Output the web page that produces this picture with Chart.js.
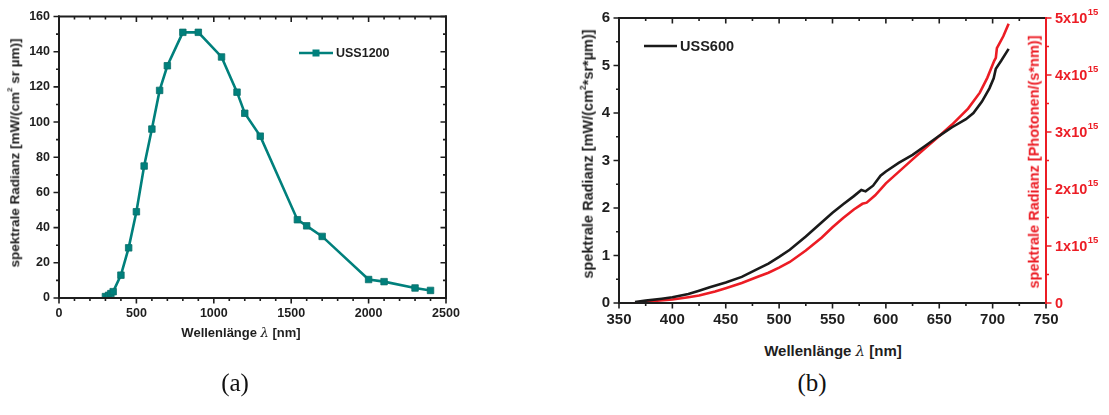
<!DOCTYPE html>
<html>
<head>
<meta charset="utf-8">
<script src="https://cdn.jsdelivr.net/npm/chart.js@4.4.1/dist/chart.umd.min.js"></script>
<style>
  body { margin:0; background:#fff; width:1109px; height:415px; overflow:hidden; position:relative;
         font-family:"Liberation Sans", Arial, sans-serif; }
  canvas { position:absolute; top:0; }
  #chartA { left:0; }
  #chartB { left:560px; }
  .lbl { position:absolute; font-weight:bold; color:#1e1e1e; white-space:nowrap;
         transform:translate(-50%,-50%); line-height:1; }
  .rot { transform:translate(-50%,-50%) rotate(-90deg); }
  .red { color:#ec1c24; }
  .lam { font-family:"DejaVu Serif", serif; font-style:italic; font-weight:normal; }
  sup { font-size:58%; line-height:0; position:relative; top:-0.15em; vertical-align:super; }
  .cap { position:absolute; font-family:"Liberation Serif","DejaVu Serif",serif; font-size:25px;
         color:#111; transform:translate(-50%,-50%); }
</style>
</head>
<body>
<canvas id="chartA" width="560" height="345"></canvas>
<canvas id="chartB" width="549" height="330"></canvas>

<div class="lbl" style="left:241px;top:332px;font-size:13px">Wellenlänge <span class="lam">λ</span> [nm]</div>
<div class="lbl rot" style="left:15px;top:153px;font-size:13.5px">spektrale Radianz [mW/(cm<sup>2</sup> sr µm)]</div>
<div class="lbl" style="left:833px;top:351px;font-size:15px">Wellenlänge <span class="lam">λ</span> [nm]</div>
<div class="lbl rot" style="left:588px;top:154px;font-size:14.5px">spektrale Radianz [mW/(cm<sup>2</sup>*sr*µm)]</div>
<div class="lbl rot red" style="left:1034px;top:162px;font-size:14.5px">spektrale Radianz [Photonen/(s*nm)]</div>
<div class="cap" style="left:235px;top:383px">(a)</div>
<div class="cap" style="left:812px;top:383px">(b)</div>

<script>
// (a) USS1200 spectral radiance
const ussWave = [300, 320, 335, 350, 400, 450, 500, 550, 600, 650, 700, 800, 900,
                 1050, 1150, 1200, 1300, 1540, 1600, 1700, 2000, 2100, 2300, 2400];
const ussRad  = [0.8, 1.5, 2.5, 3.6, 13, 28.5, 49, 75, 96, 118, 132, 151, 151,
                 137, 117, 105, 92, 44.5, 41, 35, 10.5, 9.3, 5.7, 4.3];

// (b) USS600, energy radiance (left axis)
const uss600Wave = [365, 375, 390, 400, 415, 425, 435, 450, 465, 480, 490, 500, 510, 525, 540,
                    550, 560, 570, 577, 581, 588, 595, 600, 612, 625, 637, 650, 662, 675, 682,
                    690, 697, 701, 703, 708, 715];
const uss600Rad  = [0.02, 0.05, 0.09, 0.12, 0.19, 0.26, 0.33, 0.43, 0.55, 0.72, 0.83, 0.97, 1.12, 1.40, 1.70,
                    1.90, 2.08, 2.25, 2.38, 2.35, 2.47, 2.68, 2.77, 2.95, 3.12, 3.31, 3.52, 3.70, 3.87, 4.00,
                    4.24, 4.52, 4.73, 4.93, 5.10, 5.35];

// (b) USS600, photon radiance (right axis)
const photonWave = [365, 380, 400, 415, 425, 440, 450, 465, 480, 490, 500, 510, 525, 540, 550,
                    560, 570, 578, 582, 590, 600, 612, 625, 637, 650, 662, 677, 688, 695, 701.5,
                    703, 704, 710, 715];
const photonRad  = [0.01e15, 0.03e15, 0.06e15, 0.10e15, 0.13e15, 0.20e15, 0.26e15, 0.35e15, 0.46e15, 0.53e15,
                    0.62e15, 0.72e15, 0.92e15, 1.15e15, 1.33e15, 1.49e15, 1.64e15, 1.74e15, 1.76e15, 1.89e15,
                    2.10e15, 2.30e15, 2.52e15, 2.72e15, 2.93e15, 3.13e15, 3.41e15, 3.69e15, 3.95e15, 4.25e15,
                    4.30e15, 4.47e15, 4.68e15, 4.90e15];

const photonTicks = [0, 1e15, 2e15, 3e15, 4e15, 5e15];

const TEAL = '#00807c';
const RED = '#ec1c24';
const INK = '#1e1e1e';

function pts(xs, ys) {
  return xs.map((x, i) => ({ x, y: ys[i] }));
}

// frame, major/minor ticks and the exponent labels of the photon axis
const axisFrame = {
  id: 'axisFrame',
  afterDatasetsDraw(chart, args, opts) {
    const ctx = chart.ctx;
    const a = chart.chartArea;
    ctx.save();
    opts.sides.forEach(s => {
      const sc = chart.scales[s.scale];
      const col = s.color || INK;
      ctx.strokeStyle = col;
      ctx.lineWidth = 2;
      ctx.beginPath();
      if (s.side === 'bottom') { ctx.moveTo(a.left - 1, a.bottom); ctx.lineTo(a.right + 1, a.bottom); }
      if (s.side === 'top')    { ctx.moveTo(a.left - 1, a.top);    ctx.lineTo(a.right + 1, a.top); }
      if (s.side === 'left')   { ctx.moveTo(a.left, a.top - 1);    ctx.lineTo(a.left, a.bottom + 1); }
      if (s.side === 'right')  { ctx.moveTo(a.right, a.top - 1);   ctx.lineTo(a.right, a.bottom + 1); }
      ctx.stroke();

      const sign = (s.side === 'bottom' || s.side === 'right') ? 1 : -1;
      const dir = s.out ? sign : -sign;
      ctx.lineWidth = 1.6;
      ctx.beginPath();
      const n = Math.round((sc.max - sc.min) / s.minor);
      for (let i = 0; i <= n; i++) {
        const v = sc.min + i * s.minor;
        const r = v / s.major;
        const major = Math.abs(r - Math.round(r)) < 1e-6;
        const len = (major ? 5.5 : 3) * dir;
        const p = sc.getPixelForValue(v);
        if (s.side === 'bottom' || s.side === 'top') {
          const y0 = s.side === 'bottom' ? a.bottom : a.top;
          ctx.moveTo(p, y0); ctx.lineTo(p, y0 + len);
        } else {
          const x0 = s.side === 'left' ? a.left : a.right;
          ctx.moveTo(x0, p); ctx.lineTo(x0 + len, p);
        }
      }
      ctx.stroke();

      if (s.expLabels) {
        ctx.fillStyle = col;
        ctx.textBaseline = 'middle';
        ctx.textAlign = 'left';
        s.expLabels.forEach(v => {
          const y = sc.getPixelForValue(v);
          const m = Math.round(v / 1e15);
          const x = a.right + 9;
          ctx.font = 'bold 14.5px "Liberation Sans", Arial, sans-serif';
          if (m === 0) { ctx.fillText('0', x, y + 1); return; }
          const base = m + 'x10';
          ctx.fillText(base, x, y + 1);
          const w = ctx.measureText(base).width;
          ctx.font = 'bold 9.5px "Liberation Sans", Arial, sans-serif';
          ctx.fillText('15', x + w + 0.5, y - 6);
        });
      }
    });
    ctx.restore();
  }
};

// legend entry: line sample, optional square marker, label
const legendEntry = {
  id: 'legendEntry',
  afterDraw(chart, args, o) {
    const ctx = chart.ctx;
    ctx.save();
    ctx.strokeStyle = o.color;
    ctx.lineWidth = 2.6;
    ctx.beginPath();
    ctx.moveTo(o.x1, o.y); ctx.lineTo(o.x2, o.y);
    ctx.stroke();
    if (o.marker) {
      ctx.fillStyle = o.color;
      const c = (o.x1 + o.x2) / 2;
      ctx.fillRect(c - 3.5, o.y - 3.5, 7, 7);
    }
    ctx.fillStyle = INK;
    ctx.font = o.font;
    ctx.textBaseline = 'middle';
    ctx.fillText(o.text, o.x2 + 3, o.y + 1);
    ctx.restore();
  }
};

function fixWidth(w) { return scale => { scale.width = w; }; }
function fixHeight(h) { return scale => { scale.height = h; }; }
const plain = v => String(v);

// (a)
new Chart(document.getElementById('chartA'), {
  type: 'line',
  data: {
    datasets: [{
      label: 'USS1200',
      data: pts(ussWave, ussRad),
      borderColor: TEAL,
      backgroundColor: TEAL,
      borderWidth: 2.6,
      pointStyle: 'rect',
      pointRadius: 4.6,
      pointBorderWidth: 0.8,
      pointBorderColor: '#0b6f6b',
      tension: 0
    }]
  },
  options: {
    responsive: false,
    animation: false,
    layout: { padding: { left: 0, top: 14, right: 114, bottom: 0 } },
    plugins: {
      legend: { display: false },
      tooltip: { enabled: false },
      axisFrame: { sides: [
        { side: 'bottom', scale: 'x', major: 500, minor: 100, out: true },
        { side: 'top',    scale: 'x', major: 500, minor: 100, out: false },
        { side: 'left',   scale: 'y', major: 20,  minor: 10,  out: true },
        { side: 'right',  scale: 'y', major: 20,  minor: 10,  out: false }
      ] },
      legendEntry: { x1: 299, x2: 333, y: 53, color: TEAL, marker: true, text: 'USS1200',
                     font: 'bold 12.5px "Liberation Sans", Arial, sans-serif' }
    },
    scales: {
      x: {
        type: 'linear', min: 0, max: 2500,
        grid: { display: false, drawTicks: false }, border: { display: false },
        ticks: { stepSize: 500, padding: 8, color: INK, maxRotation: 0, callback: plain,
                 font: { family: '"Liberation Sans", Arial, sans-serif', size: 12.5, weight: 'bold' } },
        afterFit: fixHeight(47)
      },
      y: {
        min: 0, max: 160,
        grid: { display: false, drawTicks: false }, border: { display: false },
        ticks: { stepSize: 20, padding: 9, color: INK, callback: plain,
                 font: { family: '"Liberation Sans", Arial, sans-serif', size: 12.5, weight: 'bold' } },
        afterFit: fixWidth(59)
      }
    }
  },
  plugins: [axisFrame, legendEntry]
});

// (b)
new Chart(document.getElementById('chartB'), {
  type: 'line',
  data: {
    datasets: [{
      label: 'USS600',
      data: pts(uss600Wave, uss600Rad),
      borderColor: '#1a1a1a',
      borderWidth: 2.6,
      pointRadius: 0,
      tension: 0,
      yAxisID: 'y'
    }, {
      label: 'Photonen',
      data: pts(photonWave, photonRad),
      borderColor: RED,
      borderWidth: 2.6,
      pointRadius: 0,
      tension: 0,
      yAxisID: 'y2'
    }]
  },
  options: {
    responsive: false,
    animation: false,
    layout: { padding: { left: 0, top: 6, right: 63, bottom: 0 } },
    plugins: {
      legend: { display: false },
      tooltip: { enabled: false },
      axisFrame: { sides: [
        { side: 'bottom', scale: 'x',  major: 50,   minor: 25,     out: true },
        { side: 'top',    scale: 'x',  major: 50,   minor: 25,     out: false },
        { side: 'left',   scale: 'y',  major: 1,    minor: 0.5,    out: true },
        { side: 'right',  scale: 'y2', major: 1e15, minor: 0.5e15, out: true, color: RED,
          expLabels: photonTicks }
      ] },
      legendEntry: { x1: 84, x2: 117, y: 46, color: '#1a1a1a', marker: false, text: 'USS600',
                     font: 'bold 14.5px "Liberation Sans", Arial, sans-serif' }
    },
    scales: {
      x: {
        type: 'linear', min: 350, max: 750,
        grid: { display: false, drawTicks: false }, border: { display: false },
        ticks: { stepSize: 50, padding: 8, color: INK, maxRotation: 0, callback: plain,
                 font: { family: '"Liberation Sans", Arial, sans-serif', size: 15, weight: 'bold' } },
        afterFit: fixHeight(27)
      },
      y: {
        min: 0, max: 6,
        grid: { display: false, drawTicks: false }, border: { display: false },
        ticks: { stepSize: 1, padding: 9, color: INK, callback: plain,
                 font: { family: '"Liberation Sans", Arial, sans-serif', size: 15, weight: 'bold' } },
        afterFit: fixWidth(59)
      },
      y2: {
        position: 'right', min: 0, max: 5e15, display: false
      }
    }
  },
  plugins: [axisFrame, legendEntry]
});
</script>
</body>
</html>
